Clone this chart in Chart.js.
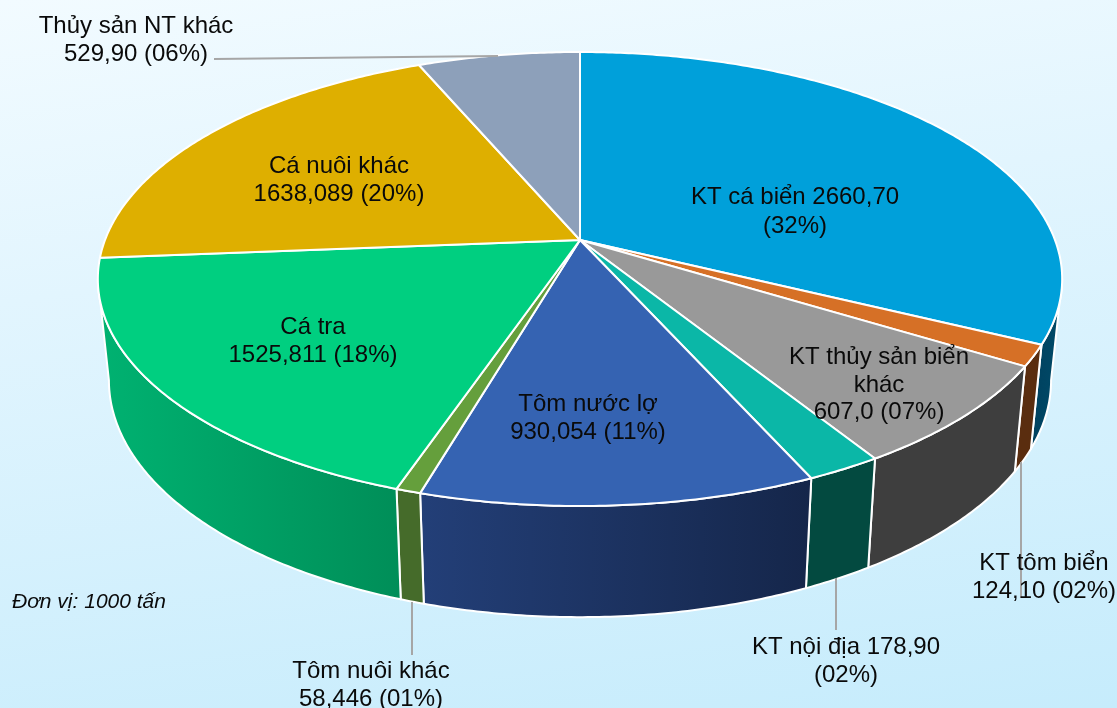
<!DOCTYPE html>
<html lang="vi">
<head>
<meta charset="utf-8">
<title>Sản lượng thủy sản</title>
<script src="https://cdn.jsdelivr.net/npm/chart.js@4/dist/chart.umd.js"></script>
<style>
html,body{margin:0;padding:0;width:1117px;height:708px;overflow:hidden;background:linear-gradient(172deg,#f2fbff 0%,#e2f5fe 35%,#c6ecfc 100%);}
canvas{display:block;}
</style>
</head>
<body>
<canvas id="c" width="1117" height="708"></canvas>
<script>
const categories = ["KT cá biển","KT tôm biển","KT thủy sản biển khác","KT nội địa","Tôm nước lợ","Tôm nuôi khác","Cá tra","Cá nuôi khác","Thủy sản NT khác"];
const values = [2660.70,124.10,607.0,178.90,930.054,58.446,1525.811,1638.089,529.90];
const topColors = ["#00a0da","#d67026","#999999","#0bb7a7","#3563b2","#659f3c","#00cf80","#deaf00","#8da0ba"];
const wallStart = ["#00415f","#5a2d0f","#3e3e3e","#034a40","#233f78","#456b2a","#00b271","#8a6c00","#566479"];
const wallEnd = ["#004a68","#5a2d0f","#3e3e3e","#034a40","#15264a","#456b2a","#008e58","#8a6c00","#566479"];
const labelLines = [
  ["KT cá biển 2660,70","(32%)"],
  ["KT tôm biển","124,10 (02%)"],
  ["KT thủy sản biển","khác","607,0 (07%)"],
  ["KT nội địa 178,90","(02%)"],
  ["Tôm nước lợ","930,054 (11%)"],
  ["Tôm nuôi khác","58,446 (01%)"],
  ["Cá tra","1525,811 (18%)"],
  ["Cá nuôi khác","1638,089 (20%)"],
  ["Thủy sản NT khác","529,90 (06%)"]
];
const unitNote = "Đơn vị: 1000 tấn";

// Perspective view of the pie disc
const VIEW = {cx:580, cy:240, A:475, B:220.3, k:0.1718, slopeY:1.043, offY:89.4, slopeX:0.977};
const FRONT_START = Math.asin(VIEW.k), FRONT_END = Math.PI - Math.asin(VIEW.k);
function topPoint(a){
  const u=Math.cos(a), v=Math.sin(a), w=1-VIEW.k*v;
  return [VIEW.cx+VIEW.A*u/w, VIEW.cy+VIEW.B*v/w];
}
function bottomPoint(a){
  const p=topPoint(a);
  return [VIEW.cx+VIEW.slopeX*(p[0]-VIEW.cx), VIEW.offY+VIEW.slopeY*p[1]];
}
function arcPoints(fn,a0,a1){
  const n=Math.max(2,Math.ceil(Math.abs(a1-a0)/0.01)), pts=[];
  for(let i=0;i<=n;i++) pts.push(fn(a0+(a1-a0)*i/n));
  return pts;
}

// Each slice draws itself as a projected top face
const ArcEl = Chart.ArcElement;
ArcEl.prototype.draw = function(ctx){
  const {startAngle,endAngle} = this.getProps(['startAngle','endAngle']);
  const pts = arcPoints(topPoint,startAngle,endAngle);
  ctx.save();
  ctx.beginPath();
  ctx.moveTo(VIEW.cx,VIEW.cy);
  pts.forEach(p=>ctx.lineTo(p[0],p[1]));
  ctx.closePath();
  ctx.fillStyle = this.options.backgroundColor;
  ctx.fill();
  ctx.strokeStyle = "#ffffff";
  ctx.lineWidth = 2;
  ctx.lineJoin = "round";
  ctx.stroke();
  ctx.restore();
};

const wallsPlugin = {
  id:"walls",
  beforeDatasetsDraw(chart){
    const ctx = chart.ctx, meta = chart.getDatasetMeta(0);
    meta.data.forEach((el,i)=>{
      const p = el.getProps(['startAngle','endAngle']);
      const a0 = Math.max(p.startAngle,FRONT_START), a1 = Math.min(p.endAngle,FRONT_END);
      if(a1<=a0) return;
      const t = arcPoints(topPoint,a0,a1);
      const b = arcPoints(bottomPoint,a0,a1).reverse();
      const poly = t.concat(b);
      const xs = poly.map(q=>q[0]);
      const g = ctx.createLinearGradient(Math.min(...xs),0,Math.max(...xs),0);
      g.addColorStop(0,wallStart[i]);
      g.addColorStop(1,wallEnd[i]);
      ctx.save();
      ctx.beginPath();
      poly.forEach((q,j)=>j?ctx.lineTo(q[0],q[1]):ctx.moveTo(q[0],q[1]));
      ctx.closePath();
      ctx.fillStyle = g;
      ctx.fill();
      ctx.strokeStyle = "#ffffff";
      ctx.lineWidth = 2;
      ctx.lineJoin = "round";
      ctx.stroke();
      ctx.restore();
    });
  }
};

const labelPos = [[795,[197,226]],[1044,[563,591]],[879,[357,385,412]],[846,[647,675]],[588,[404,432]],[371,[671,699]],[313,[327,355]],[339,[166,194]],[136,[26,54]]];
const leaders = [[[214,59],[498,56]],[[1021,462],[1021,598]],[[836,578],[836,630]],[[412,602],[412,655]]];

const labelsPlugin = {
  id:"labels3d",
  afterDatasetsDraw(chart){
    const ctx = chart.ctx;
    ctx.save();
    ctx.strokeStyle = "#a6a6a6";
    ctx.lineWidth = 2;
    leaders.forEach(l=>{
      ctx.beginPath();ctx.moveTo(l[0][0],l[0][1]);ctx.lineTo(l[1][0],l[1][1]);ctx.stroke();
    });
    ctx.fillStyle = "#0a0a0a";
    ctx.textAlign = "center";
    ctx.textBaseline = "middle";
    ctx.font = '24px "Liberation Sans", Arial, sans-serif';
    labelLines.forEach((lines,i)=>{
      lines.forEach((s,j)=>ctx.fillText(s,labelPos[i][0],labelPos[i][1][j]));
    });
    ctx.textAlign = "left";
    ctx.font = 'italic 21px "Liberation Sans", Arial, sans-serif';
    ctx.fillText(unitNote,12,602);
    ctx.restore();
  }
};

new Chart(document.getElementById("c"),{
  type:"pie",
  data:{labels:categories,datasets:[{data:values,backgroundColor:topColors,borderColor:"#ffffff",borderWidth:2}]},
  options:{
    responsive:false,
    animation:false,
    layout:{padding:0},
    plugins:{legend:{display:false},tooltip:{enabled:false},title:{display:false}}
  },
  plugins:[wallsPlugin,labelsPlugin]
});
</script>
</body>
</html>
